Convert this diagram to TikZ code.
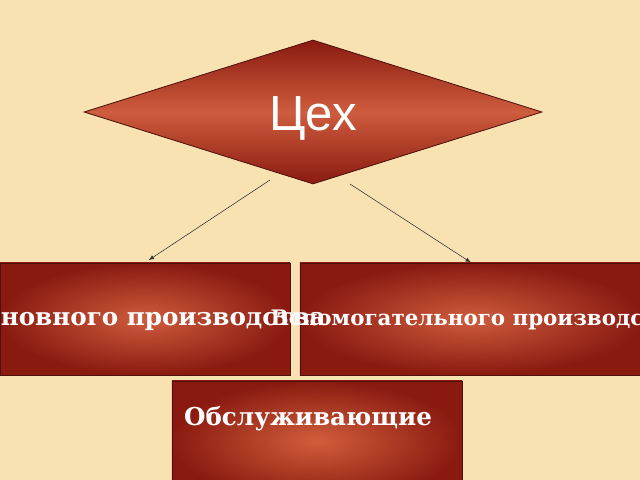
\documentclass[tikz,border=0pt]{standalone}
\usepackage{fontspec}
\setmainfont{DejaVu Serif}
\newfontfamily\cehfont{Liberation Sans}
\usepackage{xcolor}
\usepackage{tikz}
\usetikzlibrary{shapes.geometric}
\usetikzlibrary{arrows}

\definecolor{slide}{RGB}{249,226,178}
\definecolor{brickdark}{RGB}{138,26,16}
\definecolor{bricklight}{RGB}{206,92,62}
\definecolor{brickline}{RGB}{78,18,10}

\begin{document}
\begin{tikzpicture}[x=0.025cm,y=-0.025cm,
    brick/.style={draw=brickline,line width=0.6pt,inner sep=0pt,
      outer color=brickdark,inner color=bricklight},
    brtext/.style={text=white,inner sep=0pt,font=\bfseries\fontsize{#1}{#1}\selectfont},
    link/.style={-latex,thin,draw=black!80}]
    \fill[slide] (0,0) rectangle (640,480);
    \useasboundingbox (0,0) rectangle (640,480);
    \begin{scope}
      \node[diamond,draw=brickline,line width=0.6pt,inner sep=0pt,
        minimum width=11.45cm,minimum height=3.6cm,
        top color=brickdark,bottom color=brickdark,middle color=bricklight]
        (ceh) at (313,112) {};
      \node[text=white,font=\cehfont\fontsize{35}{35}\selectfont,yshift=-0.16cm]
        (cehtext) at (ceh.center) {Цех};
    \end{scope}
    \begin{scope}
      \node[brick,minimum width=7.25cm,minimum height=2.8cm] (osn) at (145,319) {};
      \node[brick,minimum width=8.55cm,minimum height=2.8cm] (vsp) at (471,319) {};
      \node[brick,minimum width=7.25cm,minimum height=3cm,
        inner color=bricklight!95!orange] (obs) at (317,441) {};
      \node[brtext=17.5] (osntext) at (osn.center) {Основного производства};
      \node[brtext=15.2] (vsptext) at (478,320) {Вспомогательного производства};
      \node[brtext=17.5] (obstext) at (308,419) {Обслуживающие};
    \end{scope}
    \coordinate (osnfrom) at (270,180);
    \coordinate (vspfrom) at (350,184);
    \draw[link,shorten >=3pt] (osnfrom) -- (osn.north);
    \draw[link] (vspfrom) -- (vsp.north);
  \end{tikzpicture}
\end{document}
